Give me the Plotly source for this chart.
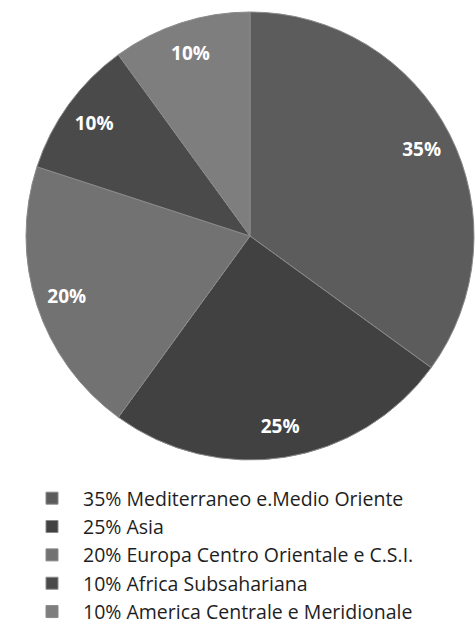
import plotly.graph_objects as go

labels = [
    "35% Mediterraneo e.Medio Oriente",
    "25% Asia",
    "20% Europa Centro Orientale e C.S.I.",
    "10% Africa Subsahariana",
    "10% America Centrale e Meridionale",
]
values = [35, 25, 20, 10, 10]
colors = ["#5c5c5c", "#414141", "#727272", "#4a4a4a", "#7e7e7e"]

W, H = 475, 624
cx, cy, r = 250, 236, 224
dom = dict(x=[(cx - r) / W, (cx + r) / W], y=[1 - (cy + r) / H, 1 - (cy - r) / H])

fig = go.Figure()
# filled slices
fig.add_trace(go.Pie(
    labels=labels, values=values, sort=False, direction="clockwise", rotation=0,
    marker=dict(colors=colors, line=dict(color="#8a8a8a", width=1)),
    textinfo="none", domain=dom, showlegend=True, hoverinfo="label+percent",
))
# transparent ring carrying the percentage labels near the rim
fig.add_trace(go.Pie(
    labels=labels, values=values, sort=False, direction="clockwise", rotation=0,
    hole=0.72,
    marker=dict(colors=["rgba(0,0,0,0)"] * len(values), line=dict(width=0)),
    texttemplate="%{percent:.0%}", textposition="inside",
    insidetextorientation="horizontal",
    textfont=dict(family="Open Sans", size=19, color="white", weight="bold"),
    domain=dom, showlegend=False, hoverinfo="skip",
))

fig.update_layout(
    width=W, height=H,
    margin=dict(l=0, r=0, t=0, b=0, autoexpand=False),
    paper_bgcolor="white",
    plot_bgcolor="white",
    uniformtext=dict(minsize=19, mode="show"),
    legend=dict(
        x=21 / W, y=1 - 479 / H, xanchor="left", yanchor="top",
        font=dict(family="Open Sans", size=19.5, color="#1e1e1e"),
        bgcolor="rgba(0,0,0,0)",
        itemwidth=52,
        itemclick=False,
    ),
)

fig.write_html("out.html")
